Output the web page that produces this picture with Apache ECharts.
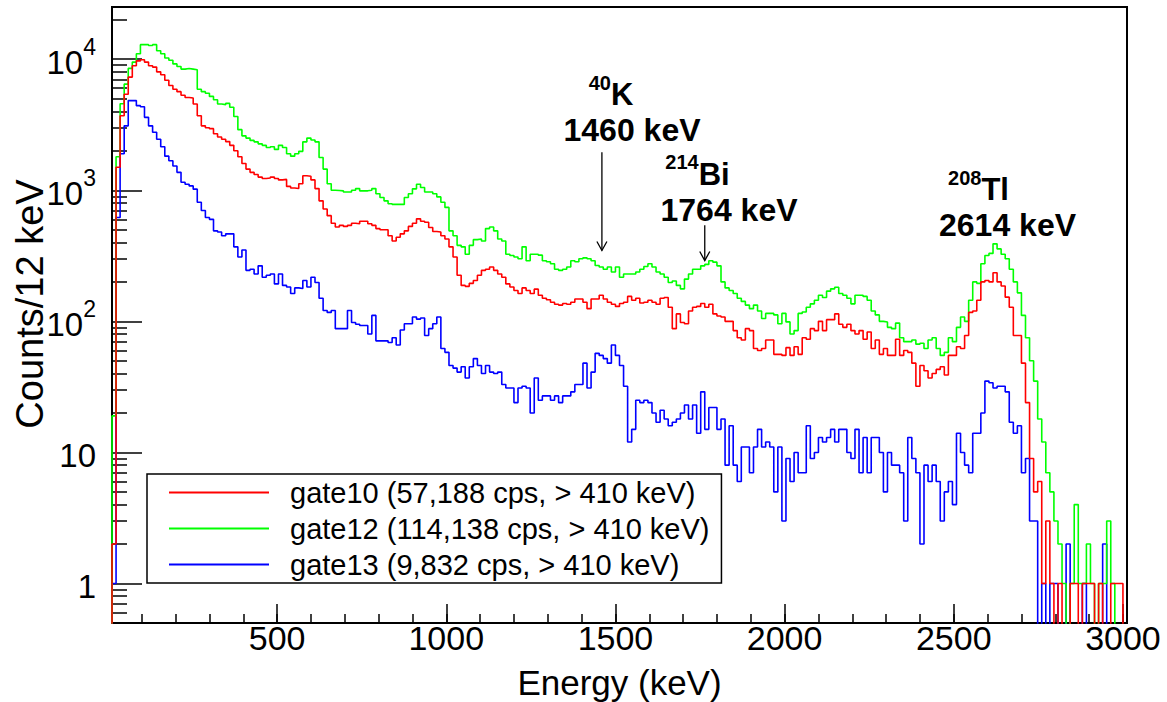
<!DOCTYPE html>
<html><head><meta charset="utf-8">
<script src="https://cdn.jsdelivr.net/npm/echarts@6/dist/echarts.min.js"></script>
<style>html,body{margin:0;padding:0;background:#fff}#c{width:1167px;height:702px}</style>
</head><body><div id="c"></div>
<script>
// ---- data (counts per 12 keV bin, bins start at 12 keV) ----
const binStartKeV = 12;
const binWidthKeV = 12;
const seriesNames = [
  'gate10 (57,188 cps, > 410 keV)',
  'gate12 (114,138 cps, > 410 keV)',
  'gate13 (9,832 cps, > 410 keV)'
];
const gate10 = [2,1500,3700,5400,7300,8900,9700,9900,9500,8900,
8700,8000,7600,6900,6300,5900,5650,5300,5100,5050,
4550,3700,3100,3000,2950,2700,2550,2450,2350,2200,
2000,1800,1600,1450,1370,1320,1260,1230,1240,1260,
1230,1200,1210,1070,1040,1030,1120,1290,1280,1200,
1030,830,720,640,560,525,540,530,540,560,
555,580,580,555,540,510,500,500,450,410,
438,465,490,530,560,605,580,570,520,485,
480,450,425,370,310,225,188,185,195,205,
225,245,250,260,245,230,217,193,183,172,
163,180,172,163,176,158,150,146,140,135,
133,137,135,140,148,148,140,125,148,148,
158,148,140,135,130,137,140,155,145,150,
138,140,145,140,135,150,152,128,88,114,
98,96,120,128,130,137,128,135,114,110,
108,100,100,85,75,72,88,85,62,60,
62,72,72,56,56,55,63,55,64,56,
75,73,88,85,100,85,103,103,114,95,
90,95,85,80,85,73,83,62,72,56,
62,55,55,73,55,60,58,48,32,46,
42,37,40,43,45,39,55,55,64,62,
78,117,120,145,200,205,200,235,200,186,
153,128,78,78,48,24,9,5,6,1,
3,1,0,1,0,0,1,1,0,1,
1,1,0,1,0,0,1,1,1,0];
const gate12 = [19,1800,4570,6450,8500,9500,11000,12900,12900,12700,
12900,11600,11000,10200,9800,9200,8800,8400,8500,8400,
8300,5900,5650,5500,5200,4900,4550,4500,4600,4300,
3650,2900,2600,2500,2400,2340,2260,2200,2120,2150,
2050,2200,2120,1900,1820,1900,1980,2340,2500,2420,
2340,1780,1450,1120,1000,995,990,970,970,1000,
1030,990,990,1000,1030,940,880,830,790,780,
780,780,880,940,1025,1110,1050,970,970,940,
890,810,740,490,450,380,370,325,380,420,
425,410,510,525,490,425,410,325,318,310,
300,370,290,325,325,320,290,285,275,250,
245,250,260,290,285,300,305,300,290,267,
260,250,260,238,260,217,230,230,230,238,
250,262,275,260,238,230,217,198,203,188,
177,210,230,250,250,265,272,290,283,265,
200,180,172,163,150,142,133,125,133,120,
105,115,115,112,96,115,99,80,85,115,
118,128,136,145,158,152,170,177,182,163,
158,150,136,158,158,155,145,120,112,100,
99,90,88,97,75,70,70,72,67,68,
62,72,75,62,55,58,75,70,90,108,
100,145,200,195,275,318,330,390,357,325,
300,250,200,165,111,75,50,35,18,12,
7,5,3,2,1,0,1,4,1,1,
2,1,0,1,1,3,1,0,0,0];
const gate13 = [1,620,1900,3100,4830,4830,4420,4330,3600,3100,
2770,2450,2150,1820,1680,1530,1370,1150,1110,1080,
1020,810,700,620,600,490,480,450,465,465,
370,310,350,245,250,230,265,217,225,230,
193,230,188,183,163,180,178,205,183,217,
198,150,121,117,121,88,88,88,121,98,
95,93,93,80,111,71,71,71,69,75,
66,86,96,96,108,104,106,78,88,96,
108,62,58,46,44,41,45,37,45,52,
46,40,46,41,40,41,33,31,31,24,
31,32,31,20,37,25,27,27,25,27,
24,27,27,29,33,33,48,31,41,57,
55,52,48,66,55,46,32,12,15,25,
24,25,24,20,17,21,18,16,17,18,
20,23,18,23,14,29,15,22,22,15,
18,8,16,8,6,11,11,7,11,15,
11,12,11,5,11,3,9,6,10,7,
7,16,9,10,13,12,13,15,12,15,
15,10,9,15,7,13,7,13,13,10,
5,10,8,8,7,3,13,9,7,2,
8,6,8,6,3,5,6,4,14,10,
8,7,14,14,20,35,34,31,32,32,
29,17,14,16,7,9,3,3,0,1,
0,1,1,0,0,2,0,0,0,1,
0,0,0,0,2,0,0,0,0,0];
const seriesColors = ['#ff0000', '#00ff00', '#0000ff'];
const xMajorTicks = [500, 1000, 1500, 2000, 2500, 3000];
const yMajorTicks = [1, 10, 100, 1000, 10000];
const peakLabels = [
  {iso: '40', el: 'K', energy: '1460 keV'},
  {iso: '214', el: 'Bi', energy: '1764 keV'},
  {iso: '208', el: 'Tl', energy: '2614 keV'}
];
const arrows = [ // [energy keV, arrow start count, arrow tip count]
  [1460, 1950, 347],
  [1764, 540, 291]
];

// ---- chart ----
const FONT = "'Liberation Sans', Arial, Helvetica, sans-serif";
const X_MIN = 12, X_MAX = 3012, Y_MIN = 0.5, Y_MAX = 25000;
const FLOOR = 0.1; // empty bins drawn down to the frame

const xMinorTicks = [];
for (let v = 100; v <= 3000; v += 100) xMinorTicks.push(v);
const yMinorTicks = [];
[0.1, 1, 10, 100, 1000, 10000].forEach(d => { for (let k = 2; k <= 9; k++) yMinorTicks.push(+(k * d).toPrecision(3)); });

function toSteps(counts) {
  const pts = [[binStartKeV, FLOOR]];
  counts.forEach((c, i) => pts.push([binStartKeV + i * binWidthKeV, c > 0 ? c : FLOOR]));
  const xEnd = binStartKeV + counts.length * binWidthKeV;
  const last = counts[counts.length - 1];
  pts.push([xEnd, last > 0 ? last : FLOOR]);
  pts.push([xEnd, FLOOR]);
  return pts;
}

const chart = echarts.init(document.getElementById('c'), null, {renderer: 'svg'});

const option = {
  animation: false,
  backgroundColor: '#fff',
  grid: {left: 112, right: 40, top: 7, bottom: 79, containLabel: false, outerBoundsMode: 'none',
    show: true, borderColor: '#000', borderWidth: 2, backgroundColor: '#fff'},
  xAxis: [{
    type: 'value', min: X_MIN, max: X_MAX,
    axisLine: {show: true, lineStyle: {color: '#000', width: 2}},
    axisTick: {show: true, inside: true, length: 19, customValues: xMajorTicks, lineStyle: {color: '#000', width: 1.5}},
    axisLabel: {show: true, customValues: xMajorTicks, fontSize: 34, fontFamily: FONT, color: '#000', margin: -2,
      formatter: v => String(v)},
    splitLine: {show: false},
    name: 'Energy (keV)', nameLocation: 'middle', nameGap: 42, nameMoveOverlap: false,
    nameTextStyle: {fontSize: 35, fontFamily: FONT, color: '#000'}
  }, {
    type: 'value', min: X_MIN, max: X_MAX, position: 'bottom',
    axisLine: {show: false},
    axisTick: {show: true, inside: true, length: 9, customValues: xMinorTicks, lineStyle: {color: '#000', width: 1.5}},
    axisLabel: {show: false},
    splitLine: {show: false}
  }],
  yAxis: [{
    type: 'log', logBase: 10, min: Y_MIN, max: Y_MAX,
    axisLine: {show: true, lineStyle: {color: '#000', width: 2}},
    axisTick: {show: true, inside: true, length: 30, customValues: yMajorTicks, lineStyle: {color: '#000', width: 1.5}},
    axisLabel: {
      show: true, customValues: yMajorTicks, margin: 16, color: '#000',
      formatter: function (v) {
        const e = Math.round(Math.log10(v));
        if (e <= 1) return '{b|' + String(Math.round(v)) + '}';
        return '{b|10}{s|' + e + '}';
      },
      rich: {
        b: {fontSize: 33, fontFamily: FONT, color: '#000', padding: [10, 0, 4, 0]},
        s: {fontSize: 23, fontFamily: FONT, color: '#000', verticalAlign: 'top'}
      }
    },
    splitLine: {show: false},
    name: 'Counts/12 keV', nameLocation: 'middle', nameGap: 63, nameRotate: 90, nameMoveOverlap: false,
    nameTextStyle: {fontSize: 38, fontFamily: FONT, color: '#000', padding: [0, 0, 0, 22]}
  }, {
    type: 'log', logBase: 10, min: Y_MIN, max: Y_MAX, position: 'left',
    axisLine: {show: false},
    axisTick: {show: true, inside: true, length: 15, customValues: yMinorTicks, lineStyle: {color: '#000', width: 1.5}},
    axisLabel: {show: false},
    splitLine: {show: false}
  }],
  legend: {
    orient: 'vertical', left: 147, top: 474,
    icon: 'rect', itemWidth: 100, itemHeight: 2, itemGap: 7,
    backgroundColor: '#fff', borderColor: '#000', borderWidth: 1.5, borderRadius: 0,
    padding: [4, 12, 4, 22],
    textStyle: {fontSize: 29, fontFamily: FONT, color: '#000', lineHeight: 29, padding: [0, 0, 0, 16]},
    data: seriesNames
  },
  series: [gate10, gate12, gate13].map((d, i) => ({
    name: seriesNames[i], type: 'line', step: 'end', symbol: 'none', showSymbol: false,
    xAxisIndex: 0, yAxisIndex: 0, clip: true,
    color: seriesColors[i],
    itemStyle: {color: seriesColors[i]},
    lineStyle: {color: seriesColors[i], width: 1.6},
    data: toSteps(d),
    z: 3 - i
  }))
};
chart.setOption(option);

// ---- annotations: one two-line rich text per peak ----
const labelLayout = [ // centre x of energy line, top of block, right padding that shifts the isotope line left
  {x: 632, top: 72.5, shift: 42},
  {x: 729, top: 152, shift: 63},
  {x: 1007.5, top: 167.5, shift: 58}
];
const gfx = [];
peakLabels.forEach((p, i) => {
  const L = labelLayout[i];
  gfx.push({type: 'text', x: L.x, y: L.top, z: 100, silent: true,
    style: {
      text: '{s|' + p.iso + '}{m|' + p.el + '}\n{e|' + p.energy + '}',
      textAlign: 'center', align: 'center', textVerticalAlign: 'top', verticalAlign: 'top',
      fill: '#000',
      rich: {
        s: {fontFamily: FONT, fontWeight: 'bold', fontSize: 20, fill: '#000', verticalAlign: 'top'},
        m: {fontFamily: FONT, fontWeight: 'bold', fontSize: 31, fill: '#000', padding: [6.5, L.shift, 0, 0]},
        e: {fontFamily: FONT, fontWeight: 'bold', fontSize: 32, fill: '#000', padding: [4, 0, 0, 0]}
      }
    }});
});
arrows.forEach(a => {
  const p1 = chart.convertToPixel({xAxisIndex: 0, yAxisIndex: 0}, [a[0], a[1]]);
  const p2 = chart.convertToPixel({xAxisIndex: 0, yAxisIndex: 0}, [a[0], a[2]]);
  gfx.push({type: 'line', z: 100, silent: true, shape: {x1: p1[0], y1: p1[1], x2: p2[0], y2: p2[1]}, style: {stroke: '#000', lineWidth: 1.3}});
  gfx.push({type: 'polyline', z: 100, silent: true, shape: {points: [[p2[0] - 5, p2[1] - 9], [p2[0], p2[1]], [p2[0] + 5, p2[1] - 9]]}, style: {stroke: '#000', fill: null, lineWidth: 1.3}});
});
chart.setOption({graphic: gfx});
</script>
</body></html>
